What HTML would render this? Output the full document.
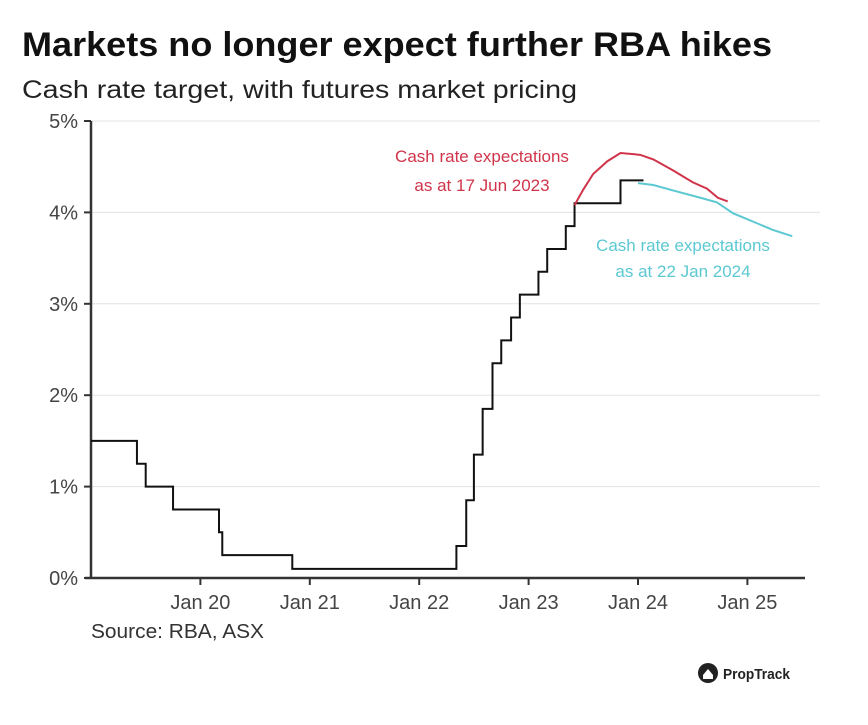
<!DOCTYPE html>
<html><head><meta charset="utf-8"><style>
body{margin:0;background:#fff;width:868px;height:720px;overflow:hidden;font-family:"Liberation Sans",sans-serif;}
</style></head><body>
<svg width="868" height="720" xmlns="http://www.w3.org/2000/svg">
<text x="22" y="56" font-size="34" font-weight="bold" fill="#111" textLength="750" lengthAdjust="spacingAndGlyphs">Markets no longer expect further RBA hikes</text>
<text x="22" y="98" font-size="25" fill="#222" textLength="555" lengthAdjust="spacingAndGlyphs">Cash rate target, with futures market pricing</text>
<g id="grid"></g><g id="axes"></g><g id="series"></g>
<text fill="#d0344a" font-size="17" text-anchor="middle"><tspan x="482" y="162">Cash rate expectations</tspan><tspan x="482" y="191">as at 17 Jun 2023</tspan></text>
<text fill="#5cc8d2" font-size="17" text-anchor="middle"><tspan x="683" y="251">Cash rate expectations</tspan><tspan x="683" y="277">as at 22 Jan 2024</tspan></text>
<text x="91" y="638" font-size="20" fill="#333" textLength="173" lengthAdjust="spacingAndGlyphs">Source: RBA, ASX</text>
<g><circle cx="708" cy="673" r="10" fill="#222"/><path d="M703 675 L708 669 L713 675 L713 679 L703 679Z" fill="#fff"/><text x="723" y="679" font-size="15" font-weight="bold" fill="#222" textLength="67" lengthAdjust="spacingAndGlyphs">PropTrack</text></g>
</svg>
<script>
const yTicks=[0,1,2,3,4,5];
const yLabels=["0%","1%","2%","3%","4%","5%"];
const xTicks=[2020,2021,2022,2023,2024,2025];
const xLabels=["Jan 20","Jan 21","Jan 22","Jan 23","Jan 24","Jan 25"];
const stepDates=[2019.0,2019.42,2019.5,2019.75,2020.17,2020.2,2020.84,2022.34,2022.43,2022.5,2022.58,2022.67,2022.75,2022.84,2022.92,2023.09,2023.17,2023.34,2023.42,2023.84,2024.05];
const stepRates=[1.5,1.25,1.0,0.75,0.5,0.25,0.10,0.35,0.85,1.35,1.85,2.35,2.6,2.85,3.1,3.35,3.6,3.85,4.1,4.35,4.35];
const redDates=[2023.42,2023.50,2023.59,2023.72,2023.84,2024.02,2024.14,2024.32,2024.50,2024.63,2024.73,2024.82];
const redRates=[4.08,4.25,4.42,4.56,4.65,4.63,4.58,4.46,4.33,4.26,4.16,4.12];
const cyanDates=[2024.0,2024.14,2024.32,2024.57,2024.72,2024.87,2025.09,2025.23,2025.41];
const cyanRates=[4.32,4.30,4.24,4.16,4.11,3.99,3.88,3.81,3.74];
const NS="http://www.w3.org/2000/svg";
const X=t=>91+(t-2019)*109.4, Y=v=>578-v*91.4;
function mk(tag,attrs,parent){const e=document.createElementNS(NS,tag);for(const k in attrs)e.setAttribute(k,attrs[k]);document.getElementById(parent).appendChild(e);return e;}
yTicks.forEach((v,i)=>{
 if(v>0){const g=mk('line',{x1:91,x2:820,y1:Y(v),y2:Y(v),stroke:'#e3e3e3','stroke-width':1},'grid');
 
 }
 const tk=mk('line',{x1:84,x2:91,y1:Y(v),y2:Y(v),stroke:'#333','stroke-width':2},'axes');
 
 
 const t=mk('text',{x:78,y:Y(v)+7,'text-anchor':'end','font-size':20,fill:'#444'},'axes');t.textContent=yLabels[i];
 
 
});
xTicks.forEach((v,i)=>{
 const tk=mk('line',{x1:X(v),x2:X(v),y1:578,y2:585,stroke:'#333','stroke-width':2},'axes');
 
 
 const t=mk('text',{x:X(v),y:609,'text-anchor':'middle','font-size':20,fill:'#444'},'axes');t.textContent=xLabels[i];
 
 
});
const ya=mk('line',{x1:91,x2:91,y1:121,y2:579,stroke:'#333','stroke-width':2.5},'axes');


const xa=mk('line',{x1:85,x2:805,y1:578,y2:578,stroke:'#333','stroke-width':2.5},'axes');


let d='M'+X(stepDates[0])+' '+Y(stepRates[0]);
for(let i=1;i<stepDates.length;i++){d+=' L'+X(stepDates[i])+' '+Y(stepRates[i-1])+' L'+X(stepDates[i])+' '+Y(stepRates[i]);}
const s=mk('path',{d:d,fill:'none',stroke:'#111','stroke-width':2},'series');


const line=(ds,vs)=>ds.map((t,i)=>(i?'L':'M')+X(t)+' '+Y(vs[i])).join(' ');
const r=mk('path',{d:line(redDates,redRates),fill:'none',stroke:'#d0344a','stroke-width':2},'series');


const c=mk('path',{d:line(cyanDates,cyanRates),fill:'none',stroke:'#5cc8d2','stroke-width':2},'series');


</script>
</body></html>
